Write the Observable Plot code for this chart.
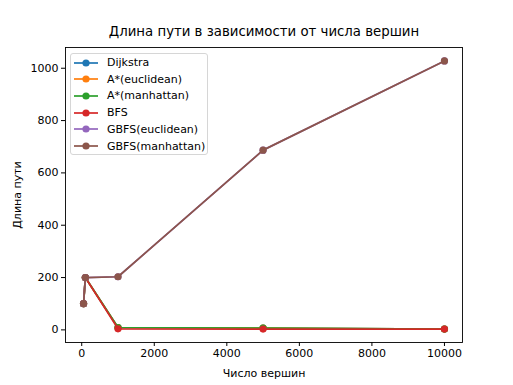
<!DOCTYPE html>
<html>
<head>
<meta charset="utf-8">
<script src="https://cdn.jsdelivr.net/npm/d3@7"></script>
<script src="https://cdn.jsdelivr.net/npm/@observablehq/plot@0.6"></script>
<style>
  html, body { margin: 0; padding: 0; background: #fff; }
  #wrap { position: relative; width: 513px; height: 385px; font-family: "DejaVu Sans", sans-serif; }
  #legend { position: absolute; left: 70px; top: 53px; width: 138px; height: 102px; box-sizing: border-box;
    border: 1px solid #d6d6d6; border-radius: 3px; background: rgba(255,255,255,0.8); }
  .row { position: absolute; left: 0; height: 17px; display: flex; align-items: center; font-size: 11px; color: #000; white-space: nowrap; }
  .row svg { margin-left: 2px; margin-right: 8px; }
</style>
</head>
<body>
<div id="wrap"></div>
<script>
const vertices = [50, 100, 1000, 5000, 10000];
const seriesNames = ["Dijkstra", "A*(euclidean)", "A*(manhattan)", "BFS", "GBFS(euclidean)", "GBFS(manhattan)"];
const dijkstra = [100, 200, 9, 7, 3];
const astarEuclidean = [100, 200, 9, 7, 3];
const astarManhattan = [100, 200, 9, 7, 3];
const bfs = [100, 200, 4, 3, 3];
const gbfsEuclidean = [100, 200, 203, 687, 1028];
const gbfsManhattan = [100, 200, 203, 687, 1028];
const seriesColors = ["#1f77b4", "#ff7f0e", "#2ca02c", "#d62728", "#9467bd", "#8c564b"];
const xTicks = [0, 2000, 4000, 6000, 8000, 10000];
const yTicks = [0, 200, 400, 600, 800, 1000];
const titleText = "Длина пути в зависимости от числа вершин";
const xLabel = "Число вершин";
const yLabel = "Длина пути";

const allValues = [dijkstra, astarEuclidean, astarManhattan, bfs, gbfsEuclidean, gbfsManhattan];
const data = [];
allValues.forEach((vals, si) => vals.forEach((v, i) => data.push({series: seriesNames[si], x: vertices[i], y: v})));

const seriesMarks = seriesNames.flatMap(name => {
  const d = data.filter(r => r.series === name);
  return [
    Plot.line(d, {x: "x", y: "y", stroke: "series", strokeWidth: 1.7}),
    Plot.dot(d, {x: "x", y: "y", fill: "series", r: 3.6, stroke: "none"})
  ];
});

const ml = 65, mr = 51, mt = 47, mb = 43;
const chart = Plot.plot({
  width: 513,
  height: 385,
  marginLeft: ml, marginRight: mr, marginTop: mt, marginBottom: mb,
  style: {fontFamily: "DejaVu Sans, sans-serif", fontSize: "11px", background: "#fff", color: "#000"},
  x: {domain: [-447.5, 10497.5]},
  y: {domain: [-48.25, 1079.25]},
  color: {domain: seriesNames, range: seriesColors},
  marks: [
    ...seriesMarks,
    Plot.frame({stroke: "#000", strokeWidth: 0.9}),
    Plot.axisX({ticks: xTicks, tickFormat: d3.format("d"), tickSize: 4, tickPadding: 3, fontSize: 11,
      label: xLabel, labelAnchor: "center", labelArrow: "none", labelOffset: 34}),
    Plot.axisY({ticks: yTicks, tickFormat: d3.format("d"), tickSize: 4, tickPadding: 3, fontSize: 11,
      label: yLabel, labelAnchor: "center", labelArrow: "none", labelOffset: 52}),
    Plot.text([titleText], {frameAnchor: "top", dy: -12, fontSize: 13.3, text: d => d, lineAnchor: "bottom"})
  ]
});
const wrap = document.getElementById("wrap");
wrap.appendChild(chart);

const legend = document.createElement("div");
legend.id = "legend";
seriesNames.forEach((name, i) => {
  const row = document.createElement("div");
  row.className = "row";
  row.style.top = (0 + i * 16.7) + "px";
  row.innerHTML = `<svg width="26" height="10"><line x1="1" y1="5" x2="25" y2="5" stroke="${seriesColors[i]}" stroke-width="1.7"/><circle cx="13" cy="5" r="3.6" fill="${seriesColors[i]}"/></svg><span>${name}</span>`;
  legend.appendChild(row);
});
wrap.appendChild(legend);
</script>
</body>
</html>
